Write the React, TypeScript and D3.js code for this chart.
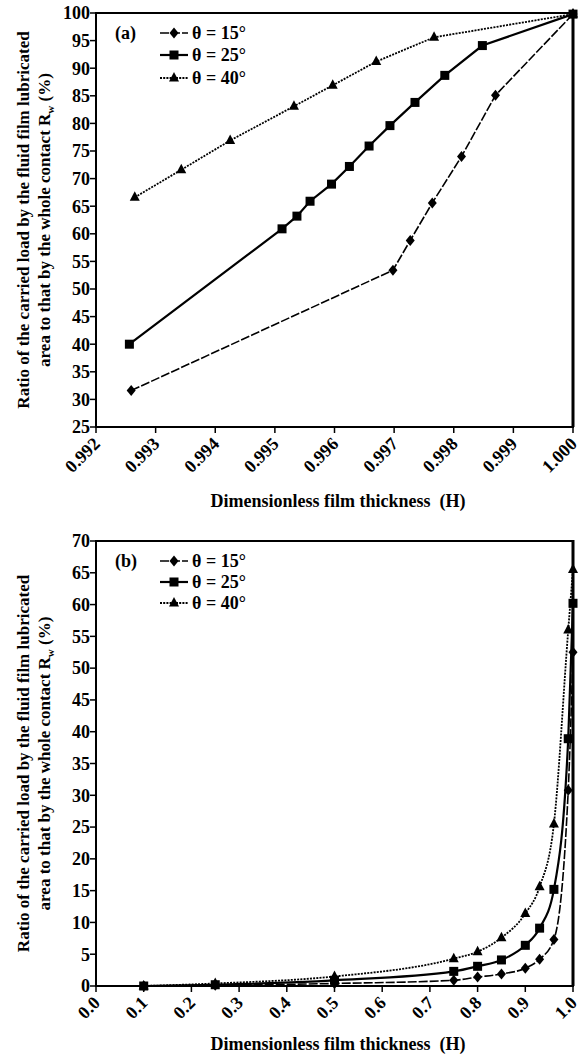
import React from "react";
import * as d3 from "d3";

// ---------- data ----------
const legendLabels = ["θ = 15°", "θ = 25°", "θ = 40°"];

// Panel (a)
const aX15 = [0.99259, 0.99698, 0.99727, 0.99764, 0.99813, 0.9987, 1.0];
const aY15 = [31.6, 53.4, 58.8, 65.6, 74.0, 85.1, 99.8];
const aX25 = [0.99256, 0.99512, 0.99537, 0.99559, 0.99595, 0.99625, 0.99658, 0.99693, 0.99735, 0.99785, 0.99848, 1.0];
const aY25 = [40.0, 60.9, 63.2, 65.9, 69.0, 72.2, 75.9, 79.6, 83.8, 88.7, 94.1, 99.8];
const aX40 = [0.99265, 0.99343, 0.99425, 0.99532, 0.99597, 0.9967, 0.99767, 1.0];
const aY40 = [66.6, 71.6, 76.9, 83.1, 86.9, 91.2, 95.6, 99.8];
const aXTicks = [0.992, 0.993, 0.994, 0.995, 0.996, 0.997, 0.998, 0.999, 1.0];
const aYTicks = [25, 30, 35, 40, 45, 50, 55, 60, 65, 70, 75, 80, 85, 90, 95, 100];

// Panel (b)
const bX = [0.1, 0.25, 0.5, 0.75, 0.8, 0.85, 0.9, 0.93, 0.96, 0.99, 1.0];
const bY15 = [0, 0.1, 0.4, 0.9, 1.4, 1.9, 2.8, 4.2, 7.3, 30.8, 52.5];
const bY25 = [0, 0.2, 0.9, 2.3, 3.1, 4.1, 6.4, 9.1, 15.2, 38.9, 60.2];
const bY40 = [0, 0.4, 1.5, 4.3, 5.4, 7.6, 11.4, 15.6, 25.5, 56.0, 65.5];
const bXTicks = [0, 0.1, 0.2, 0.3, 0.4, 0.5, 0.6, 0.7, 0.8, 0.9, 1.0];
const bYTicks = [0, 5, 10, 15, 20, 25, 30, 35, 40, 45, 50, 55, 60, 65, 70];

const FONT = "Liberation Serif";

type Series = { xs: number[]; ys: number[]; kind: number };

const styles = [
  { dash: "9,2", width: 1.6 },
  { dash: "none", width: 2.2 },
  { dash: "2,1.2", width: 1.8 },
];

function Marker({ kind, x, y }: { kind: number; x: number; y: number }) {
  if (kind === 0)
    return <path d={`M${x},${y - 5.5}L${x + 4.5},${y}L${x},${y + 5.5}L${x - 4.5},${y}Z`} fill="#000" />;
  if (kind === 1) return <rect x={x - 4.5} y={y - 4.5} width={9} height={9} fill="#000" />;
  return <path d={`M${x},${y - 6}L${x + 5},${y + 3.5}L${x - 5},${y + 3.5}Z`} fill="#000" />;
}

function Panel(props: {
  top: number;
  bottom: number;
  xDomain: [number, number];
  yDomain: [number, number];
  xTicks: number[];
  yTicks: number[];
  xFmt: string;
  series: Series[];
  tag: string;
  legendY: number[];
  xLabelY: number;
  smooth: boolean;
}) {
  const left = 96;
  const right = 573;
  const x = d3.scaleLinear().domain(props.xDomain).range([left, right]);
  const y = d3.scaleLinear().domain(props.yDomain).range([props.bottom, props.top]);
  const fmt = d3.format(props.xFmt);
  const line = d3
    .line<[number, number]>()
    .x((d) => x(d[0]))
    .y((d) => y(d[1]))
    .curve(props.smooth ? d3.curveMonotoneX : d3.curveLinear);
  const midY = (props.top + props.bottom) / 2;
  return (
    <g>
      {props.series.map((s, i) => {
        const pts = s.xs.map((v, j) => [v, s.ys[j]] as [number, number]);
        const st = styles[s.kind];
        return (
          <g key={i}>
            <path d={line(pts) || ""} fill="none" stroke="#000" strokeWidth={st.width} strokeDasharray={st.dash} />
            {pts.map((p, j) => (
              <Marker key={j} kind={s.kind} x={x(p[0])} y={y(p[1])} />
            ))}
          </g>
        );
      })}
      <line x1={left} x2={right} y1={props.top} y2={props.top} stroke="#000" strokeWidth={2} />
      <line x1={right} x2={right} y1={props.top - 1} y2={props.bottom} stroke="#000" strokeWidth={3} />
      <line x1={left} x2={left} y1={props.top - 1} y2={props.bottom + 1} stroke="#000" strokeWidth={2} />
      <line x1={left - 1} x2={right + 1} y1={props.bottom} y2={props.bottom} stroke="#000" strokeWidth={2} />
      {props.yTicks.map((t) => (
        <g key={t}>
          <line x1={left - 6} x2={left} y1={y(t)} y2={y(t)} stroke="#000" strokeWidth={1.5} />
          <text
            x={left - 6}
            y={y(t)}
            dy="0.35em"
            textAnchor="end"
            style={{ fontFamily: FONT, fontSize: 18, fontWeight: "bold" }}
          >
            {t}
          </text>
        </g>
      ))}
      {props.xTicks.map((t) => (
        <g key={t}>
          <line x1={x(t)} x2={x(t)} y1={props.bottom} y2={props.bottom + 6} stroke="#000" strokeWidth={1.5} />
          <text
            transform={`translate(${x(t) + 5},${props.bottom + 18}) rotate(-45)`}
            textAnchor="end"
            style={{ fontFamily: FONT, fontSize: 18, fontWeight: "bold" }}
          >
            {fmt(t)}
          </text>
        </g>
      ))}
      <text
        x={338}
        y={props.xLabelY}
        textAnchor="middle"
        style={{ fontFamily: FONT, fontSize: 18, fontWeight: "bold" }}
      >
        Dimensionless film thickness{"\u00A0\u00A0"}(H)
      </text>
      <text
        transform={`translate(23,${midY}) rotate(-90)`}
        textAnchor="middle"
        dy="0.35em"
        style={{ fontFamily: FONT, fontSize: 17, fontWeight: "bold" }}
      >
        Ratio of the carried load by the fluid film lubricated
      </text>
      <text
        transform={`translate(44,${midY}) rotate(-90)`}
        textAnchor="middle"
        dy="0.35em"
        style={{ fontFamily: FONT, fontSize: 17, fontWeight: "bold" }}
      >
        area to that by the whole contact R<tspan style={{ fontSize: 11 }} dy="4">w</tspan>
        <tspan dy="-4">{"\u00A0"}(%)</tspan>
      </text>
      <text
        x={115}
        y={props.legendY[0]}
        dy="0.35em"
        style={{ fontFamily: FONT, fontSize: 18, fontWeight: "bold" }}
      >
        {props.tag}
      </text>
      {legendLabels.map((lab, i) => {
        const ly = props.legendY[i];
        const st = styles[i];
        return (
          <g key={lab}>
            <line x1={160} x2={188} y1={ly} y2={ly} stroke="#000" strokeWidth={st.width} strokeDasharray={st.dash} />
            <Marker kind={i} x={174} y={ly} />
            <text
              x={192}
              y={ly}
              dy="0.35em"
              style={{ fontFamily: FONT, fontSize: 18, fontWeight: "bold" }}
            >
              {lab}
            </text>
          </g>
        );
      })}
    </g>
  );
}

export default function App() {
  return (
    <svg width={584} height={1059} style={{ position: "absolute", left: 0, top: 0, background: "#fff" }}>
      <rect width={584} height={1059} fill="#fff" />
      <Panel
        top={13}
        bottom={427}
        xDomain={[0.992, 1.0]}
        yDomain={[25, 100]}
        xTicks={aXTicks}
        yTicks={aYTicks}
        xFmt=".3f"
        tag="(a)"
        legendY={[33, 55, 78]}
        xLabelY={507}
        smooth={false}
        series={[
          { xs: aX15, ys: aY15, kind: 0 },
          { xs: aX25, ys: aY25, kind: 1 },
          { xs: aX40, ys: aY40, kind: 2 },
        ]}
      />
      <Panel
        top={541}
        bottom={986}
        xDomain={[0, 1.0]}
        yDomain={[0, 70]}
        xTicks={bXTicks}
        yTicks={bYTicks}
        xFmt=".1f"
        tag="(b)"
        legendY={[561, 582, 603]}
        xLabelY={1050}
        smooth={true}
        series={[
          { xs: bX, ys: bY15, kind: 0 },
          { xs: bX, ys: bY25, kind: 1 },
          { xs: bX, ys: bY40, kind: 2 },
        ]}
      />
    </svg>
  );
}
